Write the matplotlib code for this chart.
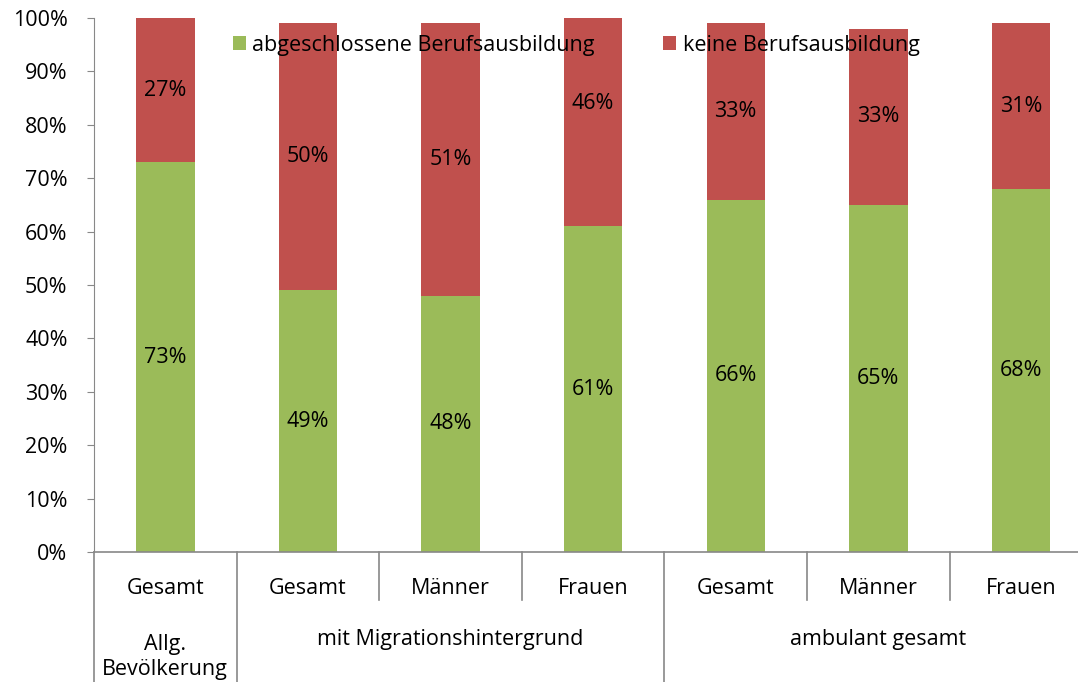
import matplotlib.pyplot as plt
import matplotlib.transforms as mtransforms

plt.rcParams['font.family'] = ['Open Sans', 'DejaVu Sans']

kategorien = ["Gesamt", "Gesamt", "Männer", "Frauen", "Gesamt", "Männer", "Frauen"]
gruppen = ["Allg.\nBevölkerung", "mit Migrationshintergrund", "ambulant gesamt"]
gruppen_spannen = [(0, 0), (1, 3), (4, 6)]
abgeschlossen = [73, 49, 48, 61, 66, 65, 68]
keine = [27, 50, 51, 46, 33, 33, 31]

gruen = "#9BBB59"
rot = "#C0504D"
fs = 15.5

fig = plt.figure(figsize=(10.78, 6.82), dpi=100)
ax = fig.add_axes([94 / 1078, 130 / 682, (1078 - 94) / 1078, 534 / 682])

x = list(range(len(kategorien)))
ax.bar(x, abgeschlossen, width=0.41, color=gruen, label="abgeschlossene Berufsausbildung")
ax.bar(x, keine, width=0.41, bottom=abgeschlossen, color=rot, label="keine Berufsausbildung")

for i in x:
    ax.text(i, abgeschlossen[i] / 2, f"{abgeschlossen[i]}%", ha="center", va="center", fontsize=fs)
    ax.text(i, abgeschlossen[i] + keine[i] / 2, f"{keine[i]}%", ha="center", va="center", fontsize=fs)

ax.set_ylim(0, 100)
ax.set_xlim(-0.5, 6.4)
ax.set_yticks(range(0, 101, 10))
ax.set_yticklabels([f"{v}%" for v in range(0, 101, 10)], fontsize=fs)
ax.set_xticks([])
ax.tick_params(axis="y", length=5, color="#888888", pad=14)

for s in ["top", "right"]:
    ax.spines[s].set_visible(False)
ax.spines["left"].set_color("#888888")
ax.spines["bottom"].set_color("#888888")
ax.spines["bottom"].set_linewidth(1.2)

trans = mtransforms.blended_transform_factory(ax.transData, ax.transAxes)
# Trennlinien unter der Achse
for i in range(len(kategorien)):
    grenze = i - 0.5
    voll = any(grenze == start - 0.5 for start, _ in gruppen_spannen)
    unten = -0.25 if voll else -0.09
    ax.plot([grenze, grenze], [0, unten], transform=trans, color="#888888", lw=1.2, clip_on=False)

for i, k in enumerate(kategorien):
    ax.text(i, -0.068, k, transform=trans, ha="center", va="center", fontsize=fs)

for g, (a, e) in zip(gruppen, gruppen_spannen):
    ax.text((a + e) / 2, -0.164 if "\n" not in g else -0.196, g, transform=trans,
            ha="center", va="center", fontsize=fs, linespacing=1.25)

ax.legend(loc="upper center", bbox_to_anchor=(0.49, 1.005), ncol=2, frameon=False, fontsize=fs,
          handlelength=0.6, handleheight=0.6, handletextpad=0.3, columnspacing=3.2)

fig.savefig("out.png", dpi=100)
